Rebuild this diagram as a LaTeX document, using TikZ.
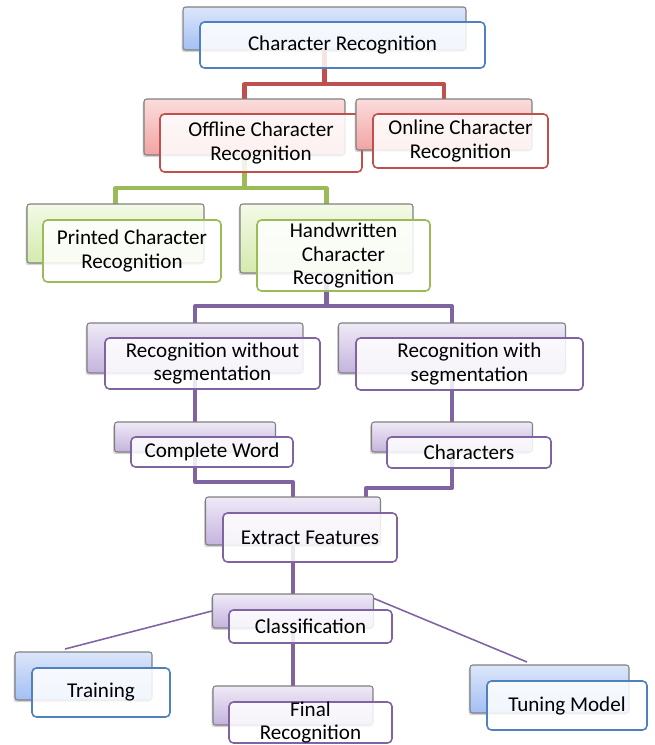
\documentclass[tikz,border=0pt]{standalone}
\usepackage{fontspec}
\setmainfont{Carlito}
\usepackage{tikz}
\usetikzlibrary{shadows}
\pgfdeclarelayer{background}
\pgfsetlayers{background,main}

\definecolor{blueline}{HTML}{4F81BD}
\definecolor{blueT}{HTML}{DCE6FA}
\definecolor{blueB}{HTML}{A3BFF3}
\definecolor{redline}{HTML}{C0504D}
\definecolor{redT}{HTML}{FBDCDC}
\definecolor{redB}{HTML}{F3A3A3}
\definecolor{greenline}{HTML}{9BBB59}
\definecolor{greenT}{HTML}{F3FAE6}
\definecolor{greenB}{HTML}{D4EAAE}
\definecolor{purpleline}{HTML}{8064A2}
\definecolor{purpleT}{HTML}{EFEAF7}
\definecolor{purpleB}{HTML}{C4B3DD}

\tikzstyle{backbox} = [rectangle, rounded corners=1.5pt, draw=gray, line width=0.6pt, drop shadow={shadow xshift=-0.8pt, shadow yshift=-1.2pt, opacity=0.35}]
\tikzstyle{frontbox} = [rectangle, rounded corners=2.5pt, fill=white, fill opacity=0.85, text opacity=1, line width=0.9pt, text centered, align=center, inner sep=1pt, font=\fontsize{12}{13.3}\selectfont]
\tikzstyle{blueb} = [backbox, top color=blueT, bottom color=blueB]
\tikzstyle{bluef} = [frontbox, draw=blueline]
\tikzstyle{redb} = [backbox, top color=redT, bottom color=redB]
\tikzstyle{redf} = [frontbox, draw=redline]
\tikzstyle{greenb} = [backbox, top color=greenT, bottom color=greenB]
\tikzstyle{greenf} = [frontbox, draw=greenline]
\tikzstyle{purpleb} = [backbox, top color=purpleT, bottom color=purpleB]
\tikzstyle{purplef} = [frontbox, draw=purpleline]
\tikzstyle{link} = [line width=2.3pt, line join=round]
\tikzstyle{thinlink} = [line width=0.9pt, purpleline]

\begin{document}
\begin{tikzpicture}[x=0.02cm, y=-0.02cm]
\useasboundingbox (0,0) rectangle (654,745);

%% NODES

\node (cr_b) [blueb, minimum width=5.66cm, minimum height=0.86cm] at (324.5,28.5) {};
\node (cr) [bluef, minimum width=5.70cm, minimum height=0.92cm] at (342.5,45) {Character Recognition};

\node (off_b) [redb, minimum width=4.02cm, minimum height=1.12cm] at (244.5,127) {};
\node (off) [redf, minimum width=4.04cm, minimum height=1.16cm] at (261,143) {Offline Character\\Recognition};
\node (on_b) [redb, minimum width=3.52cm, minimum height=1.02cm] at (444,124.5) {};
\node (on) [redf, minimum width=3.50cm, minimum height=1.08cm] at (460.5,141) {Online Character\\Recognition};

\node (pr_b) [greenb, minimum width=3.54cm, minimum height=1.18cm] at (115.5,233.5) {};
\node (pr) [greenf, minimum width=3.56cm, minimum height=1.24cm] at (132,251) {Printed Character\\Recognition};
\node (hw_b) [greenb, minimum width=3.46cm, minimum height=1.38cm] at (326.5,238.5) {};
\node (hw) [greenf, minimum width=3.46cm, minimum height=1.42cm] at (343.5,255.5) {Handwritten\\Character\\Recognition};

\node (wo_b) [purpleb, minimum width=4.32cm, minimum height=1.00cm] at (195,348) {};
\node (wo) [purplef, minimum width=4.30cm, minimum height=1.02cm] at (212.5,363.5) {Recognition without\\segmentation};
\node (wi_b) [purpleb, minimum width=4.54cm, minimum height=1.00cm] at (452,348) {};
\node (wi) [purplef, minimum width=4.54cm, minimum height=1.04cm] at (469.5,364) {Recognition with\\segmentation};

\node (cw_b) [purpleb, minimum width=3.22cm, minimum height=0.60cm] at (195,437) {};
\node (cw) [purplef, minimum width=3.24cm, minimum height=0.60cm] at (212,452) {Complete Word};
\node (ch_b) [purpleb, minimum width=3.22cm, minimum height=0.60cm] at (452,437) {};
\node (ch) [purplef, minimum width=3.28cm, minimum height=0.62cm] at (469,452.5) {Characters};

\node (ex_b) [purpleb, minimum width=3.50cm, minimum height=0.96cm] at (293,521) {};
\node (ex) [purplef, minimum width=3.48cm, minimum height=0.98cm] at (310,537.5) {Extract Features};

\node (cl_b) [purpleb, minimum width=3.22cm, minimum height=0.68cm] at (293,611) {};
\node (cl) [purplef, minimum width=3.26cm, minimum height=0.66cm] at (310.5,626.5) {Classification};

\node (tr_b) [blueb, minimum width=2.74cm, minimum height=0.96cm] at (83.5,676) {};
\node (tr) [bluef, minimum width=2.76cm, minimum height=0.98cm] at (101,692.5) {Training};
\node (fi_b) [purpleb, minimum width=3.20cm, minimum height=0.78cm] at (293,705.5) {};
\node (fi) [purplef, minimum width=3.26cm, minimum height=0.82cm, inner ysep=-2pt] at (310.5,722.5) {Final\\Recognition};
\node (tu_b) [blueb, minimum width=3.18cm, minimum height=0.96cm] at (549.5,689) {};
\node (tu) [bluef, minimum width=3.20cm, minimum height=0.98cm] at (567,705.5) {Tuning Model};

%% JUNCTIONS

\coordinate (rj) at (324.5,84);
\coordinate (gj) at (244.5,188);
\coordinate (pj) at (326.5,306);
\coordinate (ej) at (293,482);
\coordinate (cj) at (366,488);
\coordinate (tr_end) at (65,649);
\coordinate (tu_end) at (527,662);

%% LINKS

\begin{pgfonlayer}{background}
\draw [link, redline] (cr_b.center) -- (rj);
\draw [link, redline] (off_b.center) |- (rj) -| (on_b.center);
\draw [link, greenline] (off_b.center) -- (gj);
\draw [link, greenline] (pr_b.center) |- (gj) -| (hw_b.center);
\draw [link, purpleline] (hw_b.center) -- (pj);
\draw [link, purpleline] (wo_b.center) |- (pj) -| (wi_b.center);
\draw [link, purpleline] (wo_b.center) -- (cw_b.center);
\draw [link, purpleline] (wi_b.center) -- (ch_b.center);
\draw [link, purpleline] (cw_b.center) |- (ej) -- (ex_b.center);
\draw [link, purpleline] (ch_b.center) |- (cj) -- (cj |- ex_b.center);
\draw [link, purpleline] (ex_b.center) -- (cl_b.center);
\draw [link, purpleline] (cl_b.center) -- (fi_b.center);
\draw [thinlink] (cl_b.west) -- (tr_end);
\draw [thinlink] ([yshift=-0.1cm]cl_b.north east) -- (tu_end);
\end{pgfonlayer}

\end{tikzpicture}
\end{document}
